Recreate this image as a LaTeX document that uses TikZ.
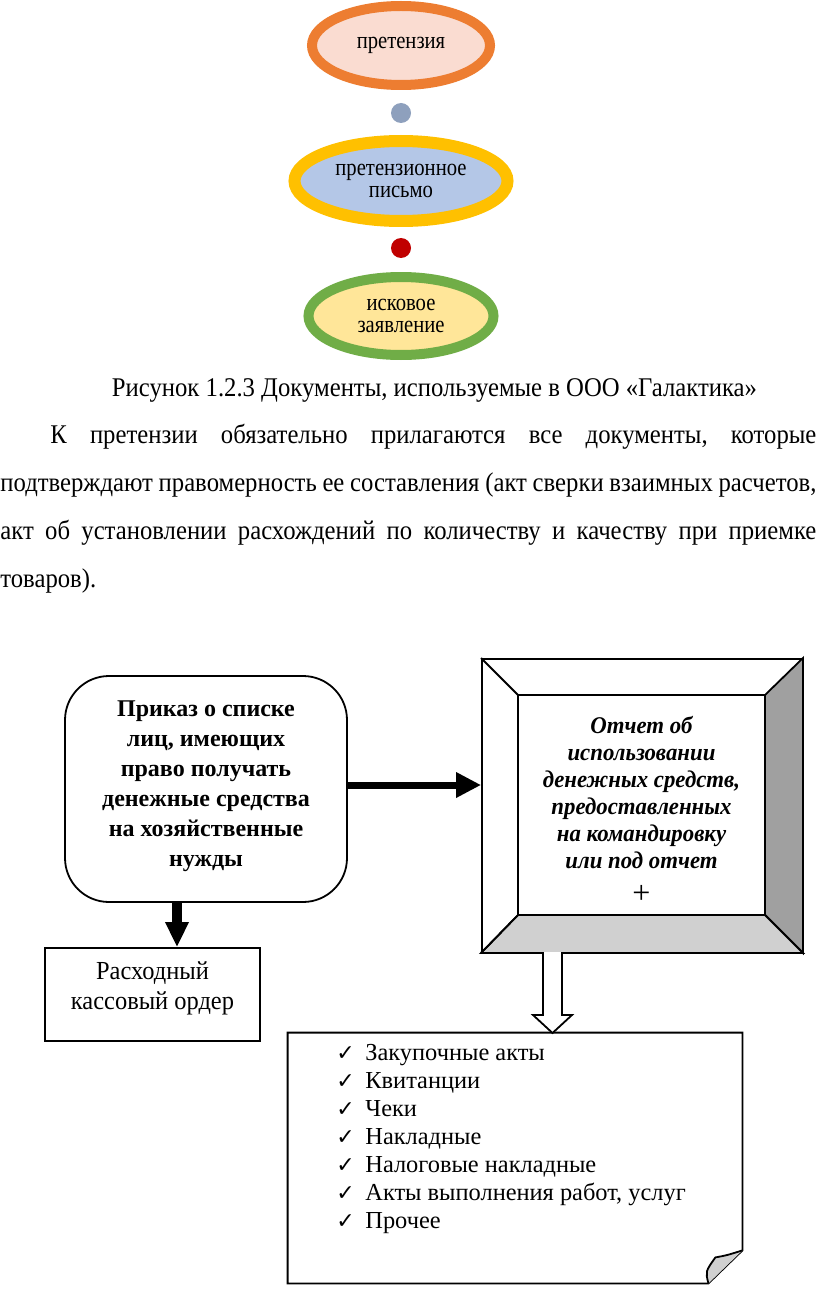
\documentclass[tikz,border=0pt]{standalone}
\usepackage{fontspec}
\setmainfont{Liberation Serif}
\newfontfamily\chk{DejaVu Sans}
\newfontfamily\capf{Liberation Serif}[FakeStretch=0.915]
\newfontfamily\ellf{Liberation Serif}[FakeStretch=0.86]
\newfontfamily\kasf{Liberation Serif}[FakeStretch=0.94]
\newfontfamily\repf{Liberation Serif}[FakeStretch=0.95]
\usetikzlibrary{arrows.meta,shapes.geometric,calc}
\definecolor{ringO}{HTML}{ED7D31}
\definecolor{fillO}{HTML}{FADCD1}
\definecolor{dotA}{HTML}{8EA0BD}
\definecolor{ringY}{HTML}{FFC000}
\definecolor{fillB}{HTML}{B4C7E7}
\definecolor{dotR}{HTML}{C00000}
\definecolor{ringG}{HTML}{70AD47}
\definecolor{fillY}{HTML}{FFE699}
\definecolor{bevR}{HTML}{A0A0A0}
\definecolor{bevB}{HTML}{D0D0D0}
\tikzset{
  ell/.style={ellipse, inner sep=0pt, line width=5pt, align=center, font=\ellf\fontsize{12}{11}\selectfont},
  dotn/.style={circle, inner sep=0pt, minimum size=10pt},
  bodyline/.style={anchor=base west, inner sep=0pt, font=\capf\fontsize{13.5}{16}\selectfont},
  frame/.style={draw, line width=0.9pt},
}
\newcommand{\jline}[2]{\hbox to #1{\frenchspacing\spaceskip=0.22em plus 1fil minus 0.1em #2}}
\newcommand{\ck}{\makebox[14.5pt][l]{\chk\fontsize{11}{10}\selectfont ✓}}
\begin{document}
\begin{tikzpicture}[x=0.5pt,y=-0.5pt]
\useasboundingbox (0,0) rectangle (816,1289);
% ellipses
\node[ell, draw=ringO, fill=fillO, minimum width=89pt, minimum height=39.5pt] (e1) at (401,45.5) {претензия};
\node[dotn, fill=dotA] (d1) at (401,113) {};
\node[ell, draw=ringY, fill=fillB, line width=6pt, minimum width=106.5pt, minimum height=40pt] (e2) at (401,181) {претензионное\\письмо};
\node[dotn, fill=dotR] (d2) at (401,248) {};
\node[ell, draw=ringG, fill=fillY, minimum width=92.5pt, minimum height=39pt] (e3) at (401,316) {исковое\\заявление};
% caption and paragraph
\node[anchor=base, inner sep=0pt, font=\capf\fontsize{13.5}{16}\selectfont] (cap) at (434.5,396) {Рисунок 1.2.3 Документы, используемые в ООО «Галактика»};
\node[bodyline] (p1) at (50,443) {\jline{383pt}{К претензии обязательно прилагаются все документы, которые}};
\node[bodyline] (p2) at (0,491) {\jline{408pt}{подтверждают правомерность ее составления (акт сверки взаимных расчетов,}};
\node[bodyline] (p3) at (0,539) {\jline{408pt}{акт об установлении расхождений по количеству и качеству при приемке}};
\node[bodyline] (p4) at (0,587) {товаров).};
% box 1
\node[frame, rounded corners=22pt, minimum width=141pt, minimum height=113pt] (b1) at (206,789) {};
\node[align=center, inner sep=0pt, font=\bfseries\fontsize{12}{15}\selectfont] (b1t) at (206,786) {Приказ о списке\\лиц, имеющих\\право получать\\денежные средства\\на хозяйственные\\нужды};
% box 2
\node[frame, minimum width=107.5pt, minimum height=46.5pt] (kas) at (152.5,994.5) {};
\node[align=center, inner sep=0pt, font=\kasf\fontsize{13}{15}\selectfont] (kast) at (152.5,988) {Расходный\\кассовый ордер};
% bevel box
\node[frame, minimum width=160pt, minimum height=146.5pt, fill=white] (rep) at (642,805.5) {};
\coordinate (i1) at (518,695);
\coordinate (i2) at (765,695);
\coordinate (i3) at (765,915);
\coordinate (i4) at (518,915);
\filldraw[line width=0.9pt, fill=bevR] (i2) -- (rep.north east) -- (rep.south east) -- (i3) -- cycle;
\filldraw[line width=0.9pt, fill=bevB] (i4) -- (i3) -- (rep.south east) -- (rep.south west) -- cycle;
\draw[line width=0.9pt] (rep.north west) -- (i1) -- (i2) (i1) -- (i4) -- (rep.south west);
\node[align=center, inner sep=0pt, font=\repf\bfseries\itshape\fontsize{12}{13.5}\selectfont] (rept) at (641.5,810) {Отчет об\\использовании\\денежных средств,\\предоставленных\\на командировку\\или под отчет\\[4pt]{\normalfont\fontsize{16}{14}\selectfont +}};
% list box
\node[minimum width=227pt, minimum height=125pt, inner sep=0pt] (lst) at (515,1158) {};
\draw[line width=0.9pt, fill=white] (lst.north west) -- (lst.north east) -- ([yshift=16.5pt]lst.south east) -- ([xshift=-17pt]lst.south east) -- (lst.south west) -- cycle;
\draw[line width=0.9pt, fill=bevB] ([yshift=16.5pt]lst.south east) .. controls ($([yshift=16.5pt]lst.south east)+(-16,5)$) .. ($([yshift=16.5pt]lst.south east)+(-27,7)$) .. controls ($([xshift=-17pt]lst.south east)+(-3,-12)$) .. ([xshift=-17pt]lst.south east);
\node[anchor=north west, align=left, inner sep=0pt, font=\fontsize{12.2}{14}\selectfont] (lstt) at (336,1044) {%
\ck Закупочные акты\\
\ck Квитанции\\
\ck Чеки\\
\ck Накладные\\
\ck Налоговые накладные\\
\ck Акты выполнения работ, услуг\\
\ck Прочее};
% arrows
\draw[line width=3.5pt, -{Triangle[length=12.5pt,width=12pt]}] ([yshift=2pt]b1.east) -- ([yshift=2pt]b1.east -| rep.west);
\draw[line width=5pt, -{Triangle[length=12.5pt,width=11pt]}] ([xshift=-14.5pt]b1.south) -- ([xshift=-14.5pt]b1.south |- kas.north);
\coordinate (ha) at (552.5,952);
\coordinate (hb) at (552.5,1033);
\draw[line width=0.9pt, fill=white] ($(ha)+(-9.5,0)$) -- ($(hb)+(-9.5,-18)$) -- ($(hb)+(-19.5,-18)$) -- (hb) -- ($(hb)+(19.5,-18)$) -- ($(hb)+(9.5,-18)$) -- ($(ha)+(9.5,0)$);
\end{tikzpicture}
\end{document}
